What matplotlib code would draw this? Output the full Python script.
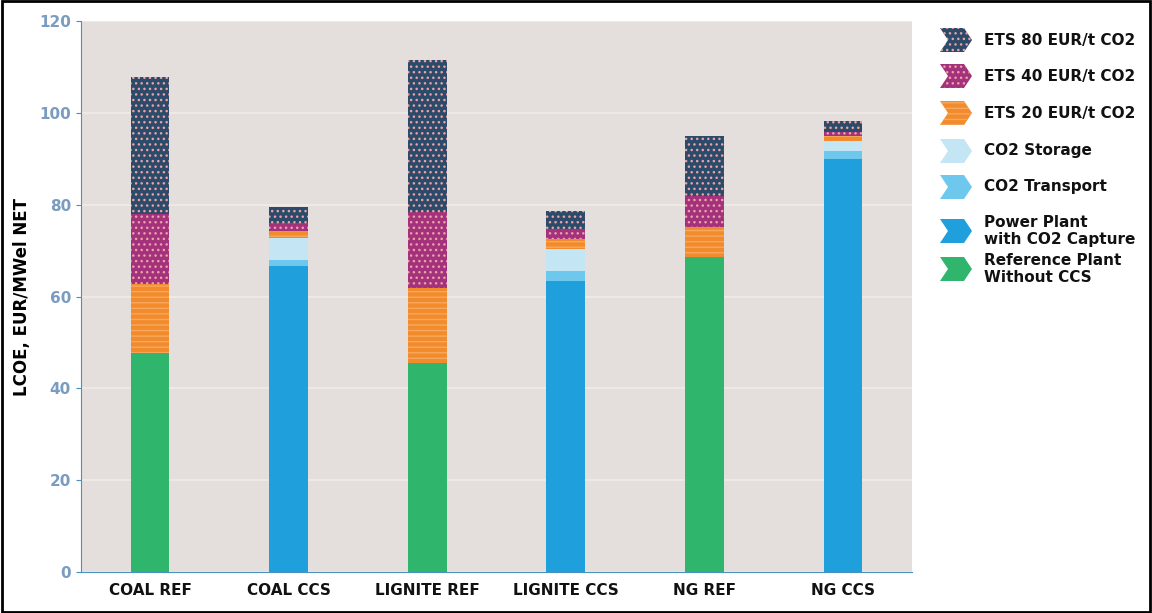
import numpy as np
import matplotlib
matplotlib.use('Agg')
import matplotlib.pyplot as plt
from matplotlib.patches import Polygon

# categories and stacked components (EUR/MWh)
plants = ['COAL REF', 'COAL CCS', 'LIGNITE REF', 'LIGNITE CCS', 'NG REF', 'NG CCS']
reference_plant = [47.8, 0, 45.5, 0, 68.7, 0]
power_plant_ccs = [0, 66.7, 0, 63.4, 0, 90.1]
co2_transport = [0, 1.3, 0, 2.2, 0, 1.7]
co2_storage = [0, 4.7, 0, 4.7, 0, 2.2]
ets_20 = [15.0, 1.6, 16.5, 2.2, 6.6, 1.0]
ets_40 = [15.2, 1.8, 16.5, 2.2, 6.6, 1.0]
ets_80 = [30.0, 3.5, 33.0, 3.9, 13.2, 2.2]

series = [
    ('Reference Plant\nWithout CCS', reference_plant, '#2fb56c', None),
    ('Power Plant\nwith CO2 Capture', power_plant_ccs, '#1f9fdc', None),
    ('CO2 Transport', co2_transport, '#6ec8ee', None),
    ('CO2 Storage', co2_storage, '#c4e5f4', None),
    ('ETS 20 EUR/t CO2', ets_20, '#f28b2c', '---'),
    ('ETS 40 EUR/t CO2', ets_40, '#a3317c', '...'),
    ('ETS 80 EUR/t CO2', ets_80, '#2c4a69', '...'),
]

plt.rcParams['hatch.linewidth'] = 1.0

fig = plt.figure(figsize=(11.52, 6.13), dpi=100)
ax = fig.add_axes([0.070, 0.067, 0.722, 0.898])
ax.set_facecolor('#e4dfdc')

x = np.arange(len(plants))
bottom = np.zeros(len(plants))
for label, vals, color, hatch in series:
    vals = np.array(vals)
    hc = '#e9a3a6' if hatch == '...' else '#f7a860'
    ax.bar(x, vals, 0.28, bottom=bottom, color=color, hatch=hatch,
           edgecolor=hc if hatch else color, linewidth=0, zorder=3)
    bottom += vals

ax.set_xlim(-0.5, len(plants) - 0.5)
ax.set_ylim(0, 120)
ax.set_yticks(range(0, 121, 20))
ax.set_xticks(x)
ax.set_xticklabels(plants, fontsize=11, fontweight='bold', color='#111111')
ax.tick_params(axis='y', labelsize=11, labelcolor='#7a9cc0', color='#4a90c0')
ax.tick_params(axis='x', length=0, pad=8)
for lab in ax.get_yticklabels():
    lab.set_fontweight('bold')
ax.yaxis.grid(True, color='#f2ece8', linewidth=1.2, zorder=0)
ax.set_axisbelow(True)
for s in ['top', 'right']:
    ax.spines[s].set_visible(False)
ax.spines['left'].set_color('#4a90c0')
ax.spines['bottom'].set_color('#4a90c0')
ax.set_ylabel('LCOE, EUR/MWel NET', fontsize=12, fontweight='bold', labelpad=6)

# legend drawn by hand: chevron markers, top entry first
W, H = fig.get_size_inches() * fig.dpi
legend_rows = [40, 76, 113, 151, 187, 231, 269]  # pixel row centres from top
for (label, vals, color, hatch), yc in zip(series[::-1], legend_rows):
    x0, x1, h = 940, 972, 24
    pts = [(x0, yc - h / 2), (x1 - 8, yc - h / 2), (x1, yc), (x1 - 8, yc + h / 2),
           (x0, yc + h / 2), (x0 + 8, yc)]
    pts = [(px / W, 1 - py / H) for px, py in pts]
    hc = '#e9a3a6' if hatch == '...' else '#f7a860'
    fig.patches.append(Polygon(pts, closed=True, transform=fig.transFigure,
                               facecolor=color, hatch=hatch,
                               edgecolor=hc if hatch else color, linewidth=0))
    fig.text(984 / W, 1 - yc / H, label, fontsize=11, fontweight='bold',
             va='center', ha='left', linespacing=1.15, color='#111111')

# outer frame
fig.patches.append(plt.Rectangle((0.002, 0.002), 0.996, 0.996, transform=fig.transFigure,
                                 fill=False, edgecolor='black', linewidth=2))

fig.savefig('out.png', dpi=100)
